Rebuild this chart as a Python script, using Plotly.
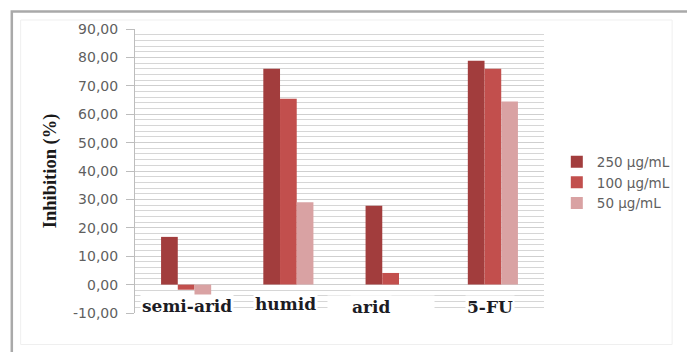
import plotly.graph_objects as go

# Extract groups and inhibition values (%) per concentration
categories = ["semi-arid", "humid", "arid", "5-FU"]
series_names = ["250 µg/mL", "100 µg/mL", "50 µg/mL"]
inhib_250 = [16.8, 76.0, 27.8, 78.8]
inhib_100 = [-1.8, 65.4, 4.1, 76.0]
inhib_50 = [-4.4, 29.0, 0.0, 64.5]
y_ticks = [-10, 0, 10, 20, 30, 40, 50, 60, 70, 80, 90]
y_tick_text = [("%.2f" % v).replace(".", ",") for v in y_ticks]

colors = ["#a23d3d", "#c24f4d", "#d9a2a3"]

fig = go.Figure()
for name, vals, col in zip(series_names, [inhib_250, inhib_100, inhib_50], colors):
    fig.add_trace(go.Bar(x=categories, y=vals, name=name,
                         marker=dict(color=col, line=dict(width=0))))

W, H = 687, 352
L, R, T, B = 135, 137, 29, 39
pw, ph = W - L - R, H - T - B


def px_x(p):
    return (p - L) / pw


def px_y(p):
    return (H - B - p) / ph


# Category labels drawn as boxed serif text under the zero line
label_shift = {"semi-arid": 1, "humid": -3, "arid": -20, "5-FU": -3}
label_y = {"semi-arid": -7.7, "humid": -6.8, "arid": -7.9, "5-FU": -7.9}
annotations = []
# wider white backing box behind "arid"
annotations.append(dict(x="arid", y=-7.6, xref="x", yref="y", text=" ",
                        showarrow=False, width=104, height=18, bgcolor="white",
                        xshift=-10, font=dict(size=12)))
for c in categories:
    annotations.append(dict(
        x=c, y=label_y[c], xref="x", yref="y", text="<b>%s</b>" % c,
        showarrow=False, xshift=label_shift[c], bgcolor="white", borderpad=1,
        font=dict(family="DejaVu Serif", size=17, color="#1c1c24")))

annotations.append(dict(
    x=px_x(49), y=0.5, xref="paper", yref="paper", text="<b>Inhibition (%)</b>",
    textangle=-90, showarrow=False, xanchor="center", yanchor="middle",
    font=dict(family="Liberation Serif", size=18.5, color="#1a1a1a")))

shapes = [
    # outer chart frame (only top and left edges fall inside the page)
    dict(type="rect", xref="paper", yref="paper",
         x0=px_x(10), x1=px_x(720), y0=px_y(380), y1=px_y(11.5),
         line=dict(color="#a9a9a9", width=2.5), fillcolor="rgba(0,0,0,0)", layer="below"),
    dict(type="rect", xref="paper", yref="paper",
         x0=px_x(19), x1=px_x(680), y0=px_y(344.5), y1=px_y(20),
         line=dict(color="#efefef", width=1), fillcolor="rgba(0,0,0,0)", layer="below"),
]

fig.update_layout(
    width=W, height=H, autosize=False,
    margin=dict(l=L, r=R, t=T, b=B, pad=0),
    paper_bgcolor="white", plot_bgcolor="white",
    barmode="group", bargap=0.51, bargroupgap=0,
    showlegend=True,
    legend=dict(x=px_x(563), y=px_y(182.5), xanchor="left", yanchor="middle",
                font=dict(family="DejaVu Sans", size=13.5, color="#5f5f5f"),
                bgcolor="rgba(0,0,0,0)", itemclick=False),
    annotations=annotations,
    shapes=shapes,
    xaxis=dict(showticklabels=False, showgrid=False, zeroline=False,
               showline=False, ticks="", range=[-0.5, 3.5]),
    yaxis=dict(range=[-10, 90], tickvals=y_ticks, ticktext=y_tick_text,
               showgrid=True, gridcolor="#cfcfcf", gridwidth=1,
               minor=dict(dtick=2, tick0=0, showgrid=True, gridcolor="#d6d6d6",
                          gridwidth=1, ticks=""),
               zeroline=False, showline=True, linecolor="#bdbdbd", linewidth=1,
               ticks="outside", ticklen=8, tickcolor="#bdbdbd",
               ticklabelstandoff=5,
               tickfont=dict(family="DejaVu Sans", size=14, color="#5f5f5f")),
)

fig.write_html("out.html")
